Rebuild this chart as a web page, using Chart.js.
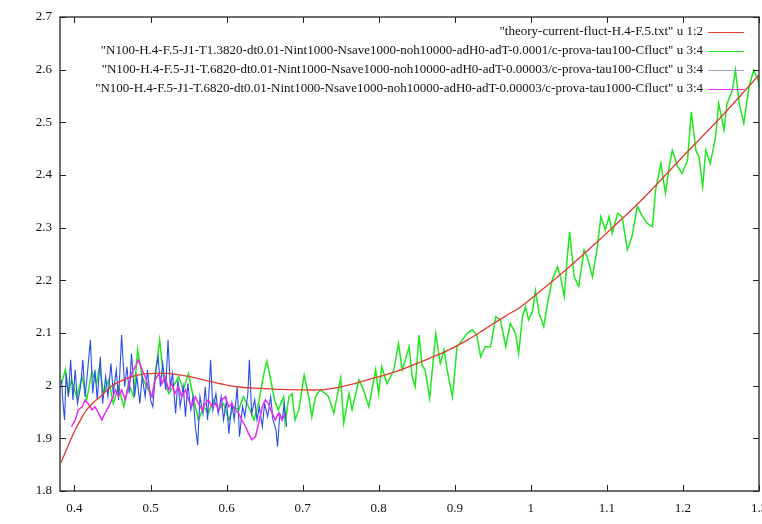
<!DOCTYPE html>
<html>
<head>
<meta charset="utf-8">
<script src="https://cdn.jsdelivr.net/npm/chart.js@4.4.1/dist/chart.umd.min.js"></script>
<style>
  html, body { margin: 0; padding: 0; background: #fff; }
  #wrap { width: 762px; height: 524px; }
</style>
</head>
<body>
<div id="wrap"><canvas id="fluctChart" width="762" height="524"></canvas></div>
<script>
// axis ticks
const xTicks = [0.4, 0.5, 0.6, 0.7, 0.8, 0.9, 1.0, 1.1, 1.2, 1.3];
const yTicks = [1.8, 1.9, 2.0, 2.1, 2.2, 2.3, 2.4, 2.5, 2.6, 2.7];

const seriesLabels = [
    '"theory-current-fluct-H.4-F.5.txt" u 1:2',
    '"N100-H.4-F.5-J1-T1.3820-dt0.01-Nint1000-Nsave1000-noh10000-adH0-adT-0.0001/c-prova-tau100-Cfluct" u 3:4',
    '"N100-H.4-F.5-J1-T.6820-dt0.01-Nint1000-Nsave1000-noh10000-adH0-adT-0.00003/c-prova-tau100-Cfluct" u 3:4',
    '"N100-H.4-F.5-J1-T.6820-dt0.01-Nint1000-Nsave1000-noh10000-adH0-adT-0.00003/c-prova-tau1000-Cfluct" u 3:4'
];

// theory curve (u 1:2)
const theory = [
    [0.382,1.853],[0.390,1.880],[0.399,1.910],[0.408,1.935],[0.416,1.954],[0.425,1.968],
    [0.434,1.979],[0.447,1.997],[0.460,2.008],[0.475,2.017],[0.490,2.022],[0.500,2.023],
    [0.513,2.024],[0.526,2.023],[0.540,2.020],[0.552,2.017],[0.575,2.009],[0.600,2.001],
    [0.620,1.997],[0.644,1.995],[0.670,1.993],[0.697,1.992],[0.723,1.992],[0.740,1.995],
    [0.760,2.001],[0.785,2.011],[0.810,2.021],[0.829,2.030],[0.850,2.042],[0.872,2.055],
    [0.895,2.070],[0.917,2.087],[0.935,2.103],[0.951,2.118],[0.970,2.135],[0.987,2.150],
    [1.013,2.180],[1.050,2.225],[1.100,2.290],[1.144,2.350],[1.200,2.435],[1.250,2.510],
    [1.300,2.590]
];

// T1.3820 tau100 (green)
const runT1382 = [
    [0.383,2.004],[0.388,2.030],[0.392,1.985],[0.396,2.011],[0.403,1.979],[0.410,2.017],
    [0.416,1.973],[0.423,2.027],[0.429,2.004],[0.433,2.036],[0.438,1.985],[0.445,2.011],
    [0.451,1.966],[0.458,1.998],[0.465,1.960],[0.471,2.004],[0.478,1.979],[0.483,2.068],
    [0.489,2.017],[0.495,1.998],[0.502,1.979],[0.506,2.017],[0.512,2.087],[0.517,2.017],
    [0.524,1.985],[0.530,1.998],[0.537,2.017],[0.543,1.992],[0.550,2.023],[0.557,1.973],
    [0.563,1.935],[0.570,1.960],[0.576,1.947],[0.583,1.973],[0.590,1.954],[0.596,1.966],
    [0.603,1.935],[0.609,1.960],[0.616,1.954],[0.622,1.979],[0.629,1.960],[0.636,1.935],
    [0.642,1.966],[0.649,2.023],[0.653,2.046],[0.658,2.011],[0.663,1.973],[0.668,1.954],
    [0.675,1.979],[0.677,1.929],[0.682,1.979],[0.686,1.985],[0.690,1.935],[0.695,1.954],
    [0.702,2.020],[0.708,1.979],[0.712,1.941],[0.717,1.979],[0.723,1.992],[0.730,1.985],
    [0.734,1.979],[0.741,1.948],[0.750,2.014],[0.754,1.929],[0.761,1.985],[0.765,1.954],
    [0.774,2.011],[0.780,1.992],[0.787,1.960],[0.796,2.030],[0.800,1.985],[0.804,2.036],
    [0.811,2.004],[0.820,2.030],[0.826,2.080],[0.831,2.030],[0.835,2.049],[0.840,2.074],
    [0.844,2.017],[0.848,1.998],[0.853,2.096],[0.857,2.039],[0.861,2.030],[0.867,1.976],
    [0.875,2.099],[0.881,2.042],[0.886,2.068],[0.890,2.030],[0.897,1.979],[0.903,2.074],
    [0.910,2.087],[0.916,2.099],[0.923,2.106],[0.929,2.096],[0.934,2.055],[0.940,2.074],
    [0.947,2.074],[0.954,2.131],[0.960,2.125],[0.967,2.074],[0.973,2.118],[0.980,2.099],
    [0.984,2.061],[0.989,2.131],[0.993,2.150],[0.997,2.125],[1.002,2.140],[1.006,2.180],
    [1.011,2.137],[1.017,2.112],[1.022,2.156],[1.028,2.200],[1.035,2.226],[1.039,2.207],
    [1.044,2.169],[1.048,2.245],[1.051,2.292],[1.057,2.207],[1.063,2.188],[1.070,2.258],
    [1.074,2.245],[1.081,2.207],[1.087,2.258],[1.092,2.321],[1.098,2.296],[1.103,2.321],
    [1.107,2.289],[1.114,2.327],[1.120,2.321],[1.127,2.258],[1.133,2.283],[1.140,2.340],
    [1.147,2.321],[1.153,2.308],[1.160,2.302],[1.164,2.371],[1.171,2.422],[1.177,2.365],
    [1.182,2.416],[1.186,2.447],[1.193,2.416],[1.199,2.403],[1.206,2.428],[1.211,2.520],
    [1.217,2.447],[1.221,2.435],[1.226,2.378],[1.230,2.447],[1.236,2.422],[1.243,2.473],
    [1.247,2.536],[1.254,2.485],[1.258,2.536],[1.265,2.561],[1.269,2.599],[1.274,2.536],
    [1.280,2.498],[1.287,2.568],[1.293,2.599],[1.299,2.580],[1.303,2.536]
];

// T.6820 tau100 (blue)
const runT682a = [
    [0.383,2.011],[0.385,1.966],[0.387,1.935],[0.389,2.023],[0.392,1.979],[0.395,2.049],
    [0.398,1.973],[0.401,2.030],[0.404,1.966],[0.408,1.998],[0.411,2.049],[0.414,1.979],
    [0.417,2.023],[0.421,2.087],[0.424,1.985],[0.427,2.030],[0.430,1.973],[0.434,2.055],
    [0.437,1.966],[0.441,2.017],[0.444,1.979],[0.448,2.042],[0.451,1.985],[0.455,2.030],
    [0.458,1.973],[0.462,2.096],[0.466,1.998],[0.469,2.036],[0.472,1.985],[0.475,2.061],
    [0.479,1.979],[0.482,2.017],[0.486,1.966],[0.489,2.017],[0.493,1.979],[0.496,2.030],
    [0.500,1.973],[0.503,1.960],[0.507,2.030],[0.510,2.055],[0.513,1.998],[0.516,2.042],
    [0.520,1.992],[0.523,2.087],[0.526,1.998],[0.529,2.023],[0.533,1.947],[0.536,2.011],
    [0.539,1.960],[0.543,1.998],[0.546,1.941],[0.549,2.004],[0.553,1.954],[0.556,1.979],
    [0.559,1.922],[0.562,1.887],[0.565,1.979],[0.569,1.947],[0.572,1.998],[0.575,1.935],
    [0.579,2.049],[0.582,1.954],[0.586,1.985],[0.589,1.947],[0.593,1.979],[0.596,1.935],
    [0.600,1.973],[0.603,1.909],[0.607,1.966],[0.610,1.935],[0.614,1.998],[0.617,1.903],
    [0.621,1.960],[0.624,1.941],[0.628,1.985],[0.630,2.049],[0.633,1.947],[0.637,1.973],
    [0.640,1.935],[0.643,1.960],[0.647,1.922],[0.650,1.966],[0.654,1.941],[0.658,1.979],
    [0.661,1.935],[0.665,1.916],[0.667,1.884],[0.670,1.947],[0.673,1.935],[0.676,1.966],
    [0.679,1.922]
];

// T.6820 tau1000 (magenta)
const runT682b = [
    [0.396,1.922],[0.401,1.935],[0.405,1.954],[0.410,1.960],[0.414,1.973],[0.418,1.966],
    [0.423,1.954],[0.427,1.960],[0.432,1.947],[0.436,1.935],[0.440,1.947],[0.445,1.960],
    [0.449,1.973],[0.454,1.992],[0.458,1.979],[0.462,1.992],[0.467,1.973],[0.471,1.998],
    [0.475,2.023],[0.480,2.036],[0.484,2.049],[0.489,2.030],[0.493,2.017],[0.497,1.998],
    [0.502,1.979],[0.506,2.011],[0.511,2.023],[0.515,2.004],[0.519,2.017],[0.524,1.992],
    [0.528,2.004],[0.532,1.985],[0.537,1.998],[0.541,1.979],[0.546,1.992],[0.550,1.973],
    [0.554,1.960],[0.559,1.979],[0.563,1.966],[0.568,1.954],[0.572,1.966],[0.576,1.973],
    [0.581,1.960],[0.585,1.966],[0.590,1.954],[0.594,1.973],[0.598,1.979],[0.603,1.960],
    [0.607,1.966],[0.611,1.954],[0.616,1.947],[0.620,1.935],[0.625,1.922],[0.629,1.909],
    [0.633,1.897],[0.638,1.903],[0.642,1.928],[0.647,1.960],[0.651,1.973],[0.655,1.966],
    [0.660,1.947],[0.664,1.935],[0.668,1.947],[0.673,1.935],[0.677,1.947]
];

const lineColors = ['#e33a2e', '#1fe81f', '#2a4fe8', '#ec2cec'];
const legendColors = ['#e33a2e', '#1fe81f', '#9aa0e0', '#ec2cec'];

function toPoints(arr) {
    return arr.map(p => ({ x: p[0], y: p[1] }));
}

function fmt(v) {
    return String(Number(v.toFixed(1)));
}

// gnuplot-style frame, inward tick marks and legend
const gnuFrame = {
    id: 'gnuFrame',
    afterDraw(chart) {
        const ctx = chart.ctx;
        const a = chart.chartArea;
        const xs = chart.scales.x, ys = chart.scales.y;
        ctx.save();
        ctx.strokeStyle = '#222';
        ctx.lineWidth = 1.3;
        ctx.strokeRect(a.left, a.top, a.right - a.left, a.bottom - a.top);
        ctx.lineWidth = 1;
        ctx.beginPath();
        xTicks.forEach(v => {
            const px = Math.round(xs.getPixelForValue(v)) + 0.5;
            ctx.moveTo(px, a.bottom); ctx.lineTo(px, a.bottom - 6);
            ctx.moveTo(px, a.top); ctx.lineTo(px, a.top + 6);
        });
        yTicks.forEach(v => {
            const py = Math.round(ys.getPixelForValue(v)) + 0.5;
            ctx.moveTo(a.left, py); ctx.lineTo(a.left + 6, py);
            ctx.moveTo(a.right, py); ctx.lineTo(a.right - 6, py);
        });
        ctx.stroke();

        // legend, top right, text right-aligned then sample line
        ctx.font = '13px "Liberation Serif", "DejaVu Serif", serif';
        ctx.textAlign = 'right';
        ctx.textBaseline = 'middle';
        chart.data.datasets.forEach((ds, i) => {
            const y = a.top + 15 + i * 19;
            ctx.fillStyle = '#111';
            ctx.fillText(ds.label, a.right - 56, y);
            ctx.strokeStyle = legendColors[i];
            ctx.lineWidth = 1.2;
            ctx.beginPath();
            ctx.moveTo(a.right - 51, y + 0.5);
            ctx.lineTo(a.right - 15, y + 0.5);
            ctx.stroke();
        });
        ctx.restore();
    }
};

const ctx = document.getElementById('fluctChart').getContext('2d');
const fluctChart = new Chart(ctx, {
    type: 'scatter',
    data: {
        datasets: [
            {
                label: seriesLabels[0],
                data: toPoints(theory),
                borderColor: lineColors[0],
                borderWidth: 1.3,
                tension: 0.3,
                order: 0
            },
            {
                label: seriesLabels[1],
                data: toPoints(runT1382),
                borderColor: lineColors[1],
                borderWidth: 1.5,
                order: 3
            },
            {
                label: seriesLabels[2],
                data: toPoints(runT682a),
                borderColor: lineColors[2],
                borderWidth: 1.1,
                order: 2
            },
            {
                label: seriesLabels[3],
                data: toPoints(runT682b),
                borderColor: lineColors[3],
                borderWidth: 1.5,
                order: 1
            }
        ]
    },
    options: {
        responsive: false,
        animation: false,
        showLine: true,
        pointRadius: 0,
        pointHoverRadius: 0,
        layout: { padding: { top: 17, right: 3, left: 0, bottom: 0 } },
        plugins: {
            legend: { display: false },
            tooltip: { enabled: false }
        },
        scales: {
            x: {
                type: 'linear',
                min: 0.381,
                max: 1.3,
                grid: { display: false, drawTicks: false },
                border: { display: false },
                afterBuildTicks: s => { s.ticks = xTicks.map(v => ({ value: v })); },
                afterFit: s => { s.height = 33; s.paddingLeft = 0; s.paddingRight = 0; },
                ticks: {
                    padding: 10,
                    maxRotation: 0,
                    autoSkip: false,
                    color: '#111',
                    font: { family: '"Liberation Serif", serif', size: 13 },
                    callback: v => fmt(v)
                }
            },
            y: {
                type: 'linear',
                min: 1.8,
                max: 2.7,
                grid: { display: false, drawTicks: false },
                border: { display: false },
                afterBuildTicks: s => { s.ticks = yTicks.map(v => ({ value: v })); },
                afterFit: s => { s.width = 60; s.paddingTop = 0; s.paddingBottom = 0; },
                ticks: {
                    padding: 8,
                    autoSkip: false,
                    color: '#111',
                    font: { family: '"Liberation Serif", serif', size: 13 },
                    callback: v => fmt(v)
                }
            }
        }
    },
    plugins: [gnuFrame]
});
</script>
</body>
</html>
